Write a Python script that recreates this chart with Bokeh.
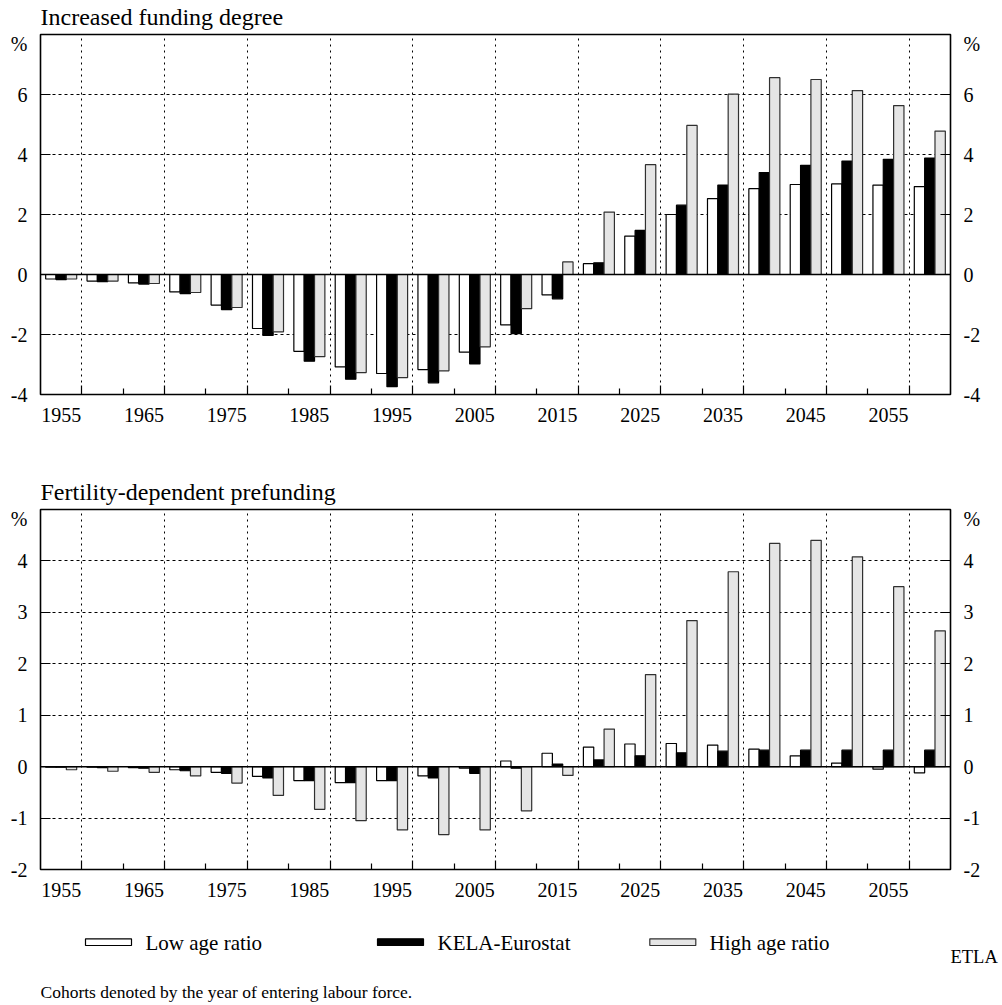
import numpy as np
from bokeh.plotting import figure
from bokeh.models import Range1d, FixedTicker, LinearAxis, Span
from bokeh.layouts import column
from bokeh.embed import file_html
from bokeh.resources import INLINE
from bokeh.core.properties import value

# ---------------- data ----------------
cohorts = [1955, 1960, 1965, 1970, 1975, 1980, 1985, 1990, 1995, 2000, 2005,
           2010, 2015, 2020, 2025, 2030, 2035, 2040, 2045, 2050, 2055, 2060]
x_tick_labels = ["1955", "1965", "1975", "1985", "1995", "2005",
                 "2015", "2025", "2035", "2045", "2055"]
series_names = ["Low age ratio", "KELA-Eurostat", "High age ratio"]

# Panel 1: Increased funding degree (%)
funding_low = [-0.15, -0.22, -0.28, -0.58, -1.02, -1.80, -2.56, -3.08, -3.30, -3.17, -2.59,
               -1.68, -0.68, 0.36, 1.28, 2.00, 2.53, 2.86, 3.00, 3.02, 2.98, 2.93]
funding_kela = [-0.17, -0.24, -0.32, -0.64, -1.17, -2.03, -2.89, -3.49, -3.74, -3.61, -2.98,
                -1.97, -0.81, 0.39, 1.47, 2.31, 2.98, 3.40, 3.64, 3.78, 3.84, 3.88]
funding_high = [-0.15, -0.22, -0.30, -0.60, -1.10, -1.91, -2.74, -3.27, -3.44, -3.21, -2.41,
                -1.14, 0.42, 2.08, 3.66, 4.97, 6.01, 6.56, 6.50, 6.13, 5.63, 4.78]

# Panel 2: Fertility-dependent prefunding (%)
prefund_low = [-0.01, -0.01, -0.02, -0.06, -0.11, -0.19, -0.27, -0.31, -0.27, -0.18, -0.03,
               0.11, 0.26, 0.38, 0.44, 0.45, 0.42, 0.34, 0.21, 0.07, -0.05, -0.12]
prefund_kela = [-0.01, -0.02, -0.03, -0.08, -0.13, -0.22, -0.27, -0.31, -0.27, -0.22, -0.13,
                -0.03, 0.05, 0.13, 0.21, 0.27, 0.30, 0.32, 0.32, 0.32, 0.32, 0.32]
prefund_high = [-0.06, -0.09, -0.11, -0.18, -0.32, -0.56, -0.83, -1.05, -1.23, -1.32, -1.23,
                -0.86, -0.17, 0.73, 1.79, 2.84, 3.79, 4.34, 4.40, 4.08, 3.50, 2.64]

funding_yticks = [-4, -2, 0, 2, 4, 6]
prefund_yticks = [-2, -1, 0, 1, 2, 3, 4]

# ---------------- style ----------------
FONT = "Liberation Serif"
W = 1002
FRAME_L = 40
FRAME_W = 910
FRAME_R = W - FRAME_L - FRAME_W
FILLS = ["white", "black", "#e5e5e5"]
LINES = ["black", "black", "#303030"]


def text_fig(h):
    # frame is aligned with the panels' frames by the column layout -> page-pixel coordinates
    p = figure(width=W, height=h, x_range=Range1d(FRAME_L, FRAME_L + FRAME_W), y_range=Range1d(h, 0),
               x_axis_location=None, y_axis_location=None, toolbar_location=None, tools="",
               min_border_left=FRAME_L, min_border_right=FRAME_R, min_border_top=0, min_border_bottom=0,
               outline_line_color=None, output_backend="svg")
    p.grid.visible = False
    return p


def add_text(p, x, baseline, txt, size_px, align="left"):
    # compensate the renderer's placement of the alphabetic baseline
    y = baseline - 0.34 * size_px
    p.text(x=[x], y=[y], text=[txt], text_font=value(FONT), text_font_size="%gpx" % size_px,
           text_align=align, text_baseline="alphabetic", text_color="black")


def panel(low, kela, high, yticks, ymin, ymax, pct_offset_px, height, bottom_border):
    n = len(cohorts)
    frame_h = height - 2 - bottom_border
    p = figure(width=W, height=height, x_range=Range1d(-0.5, n - 0.5), y_range=Range1d(ymin, ymax),
               x_axis_location=None, y_axis_location=None, toolbar_location=None, tools="",
               min_border_left=FRAME_L, min_border_right=FRAME_R,
               min_border_top=2, min_border_bottom=bottom_border,
               outline_line_color="black", outline_line_width=1.6, output_backend="svg")

    boundaries_major = [i + 0.5 for i in range(0, n - 1, 2)]
    boundaries_minor = [i + 0.5 for i in range(1, n - 1, 2)]

    p.xgrid.ticker = FixedTicker(ticks=boundaries_major)
    p.xgrid.grid_line_color = "black"
    p.xgrid.grid_line_dash = "2 4"
    p.xgrid.grid_line_width = 1
    p.ygrid.ticker = FixedTicker(ticks=[t for t in yticks if t not in (0, ymin)])
    p.ygrid.grid_line_color = "black"
    p.ygrid.grid_line_dash = "3 3"
    p.ygrid.grid_line_width = 1

    x = np.arange(n)
    for vals, off, fc, lc in zip([low, kela, high], [-0.25, 0.0, 0.25], FILLS, LINES):
        p.vbar(x=x + off, top=vals, width=0.25, fill_color=fc, line_color=lc, line_width=1.2)

    p.add_layout(Span(location=0, dimension="width", line_color="black", line_width=1.5))

    # y axes (left and right): ticks inward, "%" near the top
    px_per_unit = frame_h / (ymax - ymin)
    pct_pos = ymax - pct_offset_px / px_per_unit
    labels = {t: ("%g" % t) for t in yticks}
    labels[pct_pos] = "%"
    for side in ("left", "right"):
        ax = LinearAxis(ticker=FixedTicker(ticks=yticks + [pct_pos], minor_ticks=yticks),
                        major_label_overrides=labels,
                        major_tick_in=0, major_tick_out=0, minor_tick_in=10, minor_tick_out=0,
                        minor_tick_line_color="black", minor_tick_line_width=1.2,
                        axis_line_color=None, major_label_standoff=13,
                        major_label_text_font=FONT, major_label_text_font_size="20px",
                        major_label_text_color="black")
        p.add_layout(ax, side)

    # x tick marks (inward) on the bottom edge
    tick_ax = LinearAxis(ticker=FixedTicker(ticks=boundaries_major, minor_ticks=boundaries_minor),
                         major_label_overrides={t: "" for t in boundaries_major},
                         major_tick_in=9, major_tick_out=0, minor_tick_in=6, minor_tick_out=0,
                         major_tick_line_color="black", major_tick_line_width=1.2,
                         minor_tick_line_color="black", minor_tick_line_width=1.2,
                         axis_line_color=None, major_label_standoff=0,
                         major_label_text_font_size="1px")
    p.add_layout(tick_ax, "below")

    # x labels centred on every other cohort group
    label_pos = [cohorts.index(int(s)) for s in x_tick_labels]
    lab_ax = LinearAxis(ticker=FixedTicker(ticks=label_pos),
                        major_label_overrides={pos: s for pos, s in zip(label_pos, x_tick_labels)},
                        major_tick_in=0, major_tick_out=0,
                        axis_line_color=None, major_label_standoff=13,
                        major_label_text_font=FONT, major_label_text_font_size="20px",
                        major_label_text_color="black")
    p.add_layout(lab_ax, "below")
    return p


# ---------------- layout ----------------
t1 = text_fig(32)
add_text(t1, FRAME_L, 25, "Increased funding degree", 24)

p1 = panel(funding_low, funding_kela, funding_high, funding_yticks, -4, 8, 9, 428, 66)

t2 = text_fig(47)
add_text(t2, FRAME_L, 39.5, "Fertility-dependent prefunding", 24)

p2 = panel(prefund_low, prefund_kela, prefund_high, prefund_yticks, -2, 5, 9, 413, 51)

FOOT_H = 85
foot = text_fig(FOOT_H)
box_x = [85, 377, 649.3]
label_x = [145, 437, 709]
for bx, lx, name, fc, lc in zip(box_x, label_x, series_names, FILLS, LINES):
    foot.quad(left=[bx], right=[bx + 46], top=[18.3], bottom=[25], fill_color=fc,
              line_color=lc, line_width=1.2)
    add_text(foot, lx, 29.3, name, 21)
add_text(foot, FRAME_L, 77.5, "Cohorts denoted by the year of entering labour force.", 17.5)

# "ETLA" sits right of the frame: carried by a label-only axis on the right side
etla_ax = LinearAxis(ticker=FixedTicker(ticks=[36.5]), major_label_overrides={36.5: "ETLA"},
                     major_tick_in=0, major_tick_out=0, axis_line_color=None,
                     major_label_standoff=0, major_label_text_font=FONT,
                     major_label_text_font_size="18.5px", major_label_text_color="black")
foot.add_layout(etla_ax, "right")

layout = column(t1, p1, t2, p2, foot, spacing=0)

open("out.html", "w").write(file_html(layout, INLINE))
